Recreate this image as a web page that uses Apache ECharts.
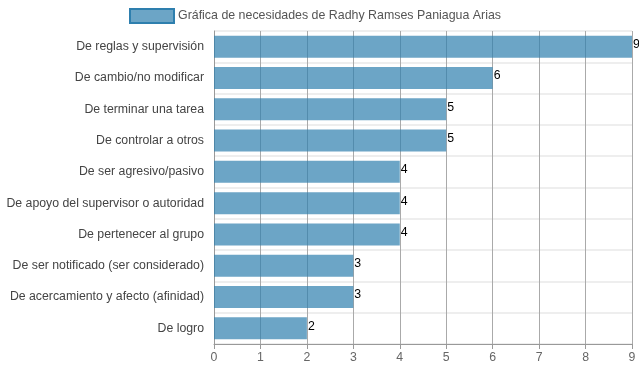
<!DOCTYPE html>
<html><head><meta charset="utf-8">
<script src="https://cdn.jsdelivr.net/npm/echarts@6/dist/echarts.min.js"></script>
<style>html,body{margin:0;padding:0;background:#fff}#c{width:639px;height:372px}</style>
</head><body><div id="c"></div>
<script>
const categories = ["De reglas y supervisión","De cambio/no modificar","De terminar una tarea","De controlar a otros","De ser agresivo/pasivo","De apoyo del supervisor o autoridad","De pertenecer al grupo","De ser notificado (ser considerado)","De acercamiento y afecto (afinidad)","De logro"];
const values = [9,6,5,5,4,4,4,3,3,2];
const seriesName = "Gráfica de necesidades de Radhy Ramses Paniagua Arias";
const chart = echarts.init(document.getElementById('c'), null, {renderer:'canvas'});
chart.setOption({
  animation:false,
  textStyle:{fontFamily:'Liberation Sans, Arial, sans-serif'},
  legend:{top:8,left:129,padding:0,itemWidth:44,itemHeight:14,itemGap:4,icon:'rect',
    textStyle:{color:'#555',fontSize:12.4,padding:[0,0,0,-1]},
    data:[{name:seriesName,itemStyle:{color:'rgba(46,127,174,0.7)',borderColor:'#2E7FAE',borderWidth:2}}]},
  grid:{left:214,right:7,top:31,bottom:28},
  xAxis:{type:'value',min:0,max:9,interval:1,
    axisLine:{show:true,lineStyle:{color:'#999'}},
    axisTick:{show:true,length:5,lineStyle:{color:'#999'}},
    axisLabel:{color:'#666',fontSize:12.3,margin:8},
    splitLine:{show:true,lineStyle:{color:'#aaa',width:1}}},
  yAxis:{type:'category',data:categories,inverse:true,
    axisLine:{show:true,lineStyle:{color:'#999'}},
    axisTick:{show:false},
    axisLabel:{color:'#444',fontSize:12.3,margin:10},
    splitLine:{show:true,lineStyle:{color:'#eee',width:2}}},
  series:[{name:seriesName,type:'bar',data:values,barWidth:22,
    itemStyle:{color:'rgba(46,127,174,0.7)'},
    label:{show:true,position:'right',distance:1,color:'#000',fontSize:12.3,offset:[0,-2]}}]
});
</script></body></html>
